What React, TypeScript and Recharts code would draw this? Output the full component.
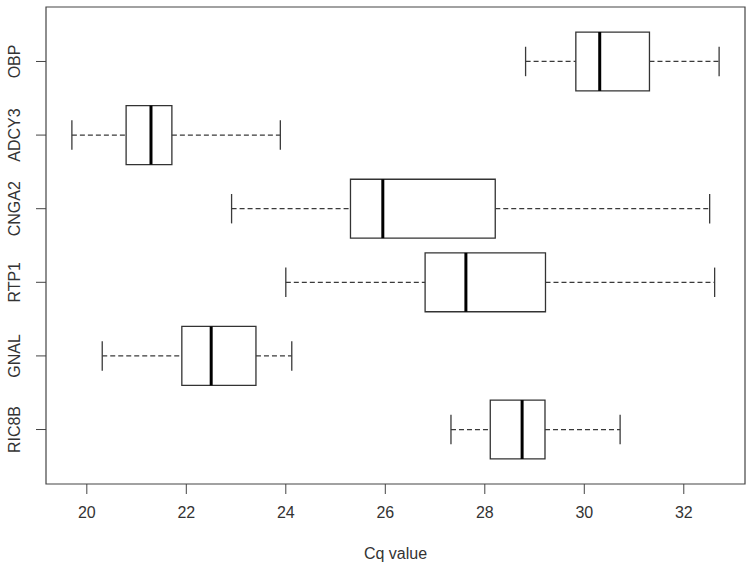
import React from 'react'
import { ComposedChart, XAxis, YAxis, Scatter, ReferenceArea, ReferenceLine } from 'recharts'

// genes from bottom (position 1) to top (position 6)
const genes = ['RIC8B', 'GNAL', 'RTP1', 'CNGA2', 'ADCY3', 'OBP']
const whiskerLow = [27.32, 20.31, 24.0, 22.91, 19.7, 28.82]
const q1 = [28.11, 21.91, 26.8, 25.3, 20.79, 29.83]
const median = [28.75, 22.5, 27.62, 25.95, 21.29, 30.31]
const q3 = [29.21, 23.4, 29.22, 28.21, 21.71, 31.31]
const whiskerHigh = [30.72, 24.12, 32.62, 32.52, 23.89, 32.71]
const xTicks = [20, 22, 24, 26, 28, 30, 32]

const positions = genes.map((_, i) => i + 1)

// R style axis extension: 4% on each side
const extend = (lo: number, hi: number): [number, number] => {
    const r = hi - lo
    return [lo - 0.04 * r, hi + 0.04 * r]
}
const xDomain = extend(Math.min(...whiskerLow), Math.max(...whiskerHigh))
const yDomain = extend(0.5, genes.length + 0.5)

const rows = genes.map((g, i) => ({ gene: g, y: positions[i], x: median[i] }))

const BOX_HALF = 0.4
const CAP_HALF = 0.2
const ink = '#333'
const whisk = '#3a3a3a'

const GeneTick = (props: any) => {
    const { x, y, payload } = props
    const label = genes[payload.value - 1]
    const cx = x - 19
    return (
        <text x={cx} y={y} transform={`rotate(-90, ${cx}, ${y})`} textAnchor="middle" dominantBaseline="central" fill={ink} fontSize={16}>
            {label}
        </text>
    )
}

export default function App() {
    return (
        <div style={{ position: 'absolute', left: 0, top: 0, background: '#fff', fontFamily: '"Liberation Sans", Arial, sans-serif' }}>
            <ComposedChart width={754} height={575} data={rows} margin={{ top: 7, right: 9, left: 0, bottom: 0 }}>
                <XAxis
                    type="number"
                    dataKey="x"
                    domain={xDomain}
                    ticks={xTicks}
                    allowDataOverflow
                    axisLine={false}
                    tickSize={10}
                    tickMargin={13}
                    tickLine={{ stroke: '#444' }}
                    tick={{ fill: ink, fontSize: 16 }}
                    height={91}
                    label={{ value: 'Cq value', position: 'insideBottom', offset: 16, fill: ink, fontSize: 16 }}
                />
                <YAxis
                    type="number"
                    dataKey="y"
                    domain={yDomain}
                    ticks={positions}
                    allowDataOverflow
                    axisLine={false}
                    tickSize={10}
                    tickLine={{ stroke: '#444' }}
                    tick={<GeneTick />}
                    width={46}
                />
                {positions.map((p, i) => (
                    <ReferenceLine key={`wl${i}`} segment={[{ x: whiskerLow[i], y: p }, { x: q1[i], y: p }]} stroke={whisk} strokeWidth={1.3} strokeDasharray="5 3" ifOverflow="visible" />
                ))}
                {positions.map((p, i) => (
                    <ReferenceLine key={`wh${i}`} segment={[{ x: q3[i], y: p }, { x: whiskerHigh[i], y: p }]} stroke={whisk} strokeWidth={1.3} strokeDasharray="5 3" ifOverflow="visible" />
                ))}
                {positions.map((p, i) => (
                    <ReferenceLine key={`cl${i}`} segment={[{ x: whiskerLow[i], y: p - CAP_HALF }, { x: whiskerLow[i], y: p + CAP_HALF }]} stroke={whisk} strokeWidth={1.3} ifOverflow="visible" />
                ))}
                {positions.map((p, i) => (
                    <ReferenceLine key={`ch${i}`} segment={[{ x: whiskerHigh[i], y: p - CAP_HALF }, { x: whiskerHigh[i], y: p + CAP_HALF }]} stroke={whisk} strokeWidth={1.3} ifOverflow="visible" />
                ))}
                {positions.map((p, i) => (
                    <ReferenceArea key={`box${i}`} x1={q1[i]} x2={q3[i]} y1={p - BOX_HALF} y2={p + BOX_HALF} fill="none" stroke={ink} strokeWidth={1.3} ifOverflow="visible" />
                ))}
                {positions.map((p, i) => (
                    <ReferenceLine key={`med${i}`} segment={[{ x: median[i], y: p - BOX_HALF }, { x: median[i], y: p + BOX_HALF }]} stroke="#000" strokeWidth={3} ifOverflow="visible" />
                ))}
                <ReferenceArea x1={xDomain[0]} x2={xDomain[1]} y1={yDomain[0]} y2={yDomain[1]} fill="none" stroke="#444" strokeWidth={1.2} ifOverflow="visible" />
                <Scatter dataKey="y" isAnimationActive={false} shape={() => <g />} />
            </ComposedChart>
        </div>
    )
}
